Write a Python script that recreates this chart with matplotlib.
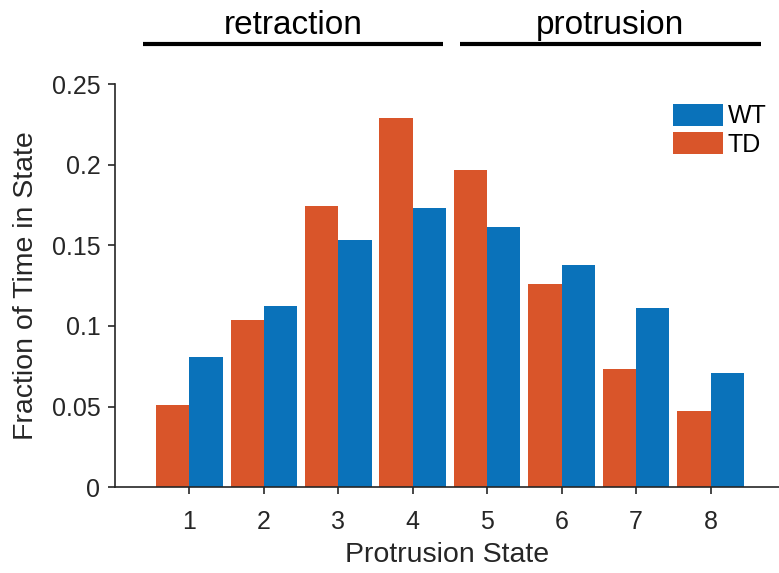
import numpy as np
import matplotlib
matplotlib.use("Agg")
import matplotlib.pyplot as plt

states = [1, 2, 3, 4, 5, 6, 7, 8]
td = [0.051, 0.1037, 0.1744, 0.2287, 0.1965, 0.1258, 0.0731, 0.0473]
wt = [0.0806, 0.1126, 0.1531, 0.1729, 0.1614, 0.1376, 0.1110, 0.0711]
y_ticks = [0, 0.05, 0.1, 0.15, 0.2, 0.25]
y_ticklabels = ["0", "0.05", "0.1", "0.15", "0.2", "0.25"]
phases = [("retraction", 0.375, 4.40), ("protrusion", 4.63, 8.68)]

blue = "#0A72BA"
orange = "#D9552A"
dark = "#262626"

plt.rcParams["font.family"] = ["Liberation Sans", "DejaVu Sans"]

fig = plt.figure(figsize=(7.79, 5.73), dpi=100)
ax = fig.add_axes([0.1476, 0.1496, 1 - 0.1476, 0.7038])

x = np.array(states)
w = 0.447
ax.bar(x - w / 2, td, width=w, color=orange, label="TD", linewidth=0)
ax.bar(x + w / 2, wt, width=w, color=blue, label="WT", linewidth=0)

ax.set_xlim(0, 8.92)
ax.set_ylim(0, 0.25)
ax.set_xticks(states)
ax.set_yticks(y_ticks)
ax.set_yticklabels(y_ticklabels)

for s in ["top", "right"]:
    ax.spines[s].set_visible(False)
for s in ["left", "bottom"]:
    ax.spines[s].set_color(dark)
    ax.spines[s].set_linewidth(1.2)
ax.tick_params(direction="out", length=5, width=1.2, colors=dark, labelsize=18)
ax.tick_params(axis="x", pad=11)
ax.tick_params(axis="y", pad=5.5)

ax.set_xlabel("Protrusion State", fontsize=20.5, color=dark, labelpad=6)
ax.set_ylabel("Fraction of Time in State", fontsize=20.5, color=dark, labelpad=9)

# legend: WT above TD
handles, labels = ax.get_legend_handles_labels()
ax.legend(handles[::-1], labels[::-1], loc="upper left",
          bbox_to_anchor=(673 / 779, 1 - 104 / 573), bbox_transform=fig.transFigure,
          frameon=False, fontsize=18, handlelength=2.0, handleheight=0.96,
          handletextpad=0.2, labelspacing=0.15, borderpad=0, borderaxespad=0)

# retraction / protrusion bars above the axes
for name, x0, x1 in phases:
    ax.plot([x0, x1], [1.098, 1.098], color="black", lw=3,
            transform=ax.get_xaxis_transform(), clip_on=False,
            solid_capstyle="butt")
    ax.text((x0 + x1) / 2, 1.125, name, transform=ax.get_xaxis_transform(),
            ha="center", va="baseline", fontsize=24)

fig.savefig("out.png", dpi=100)
